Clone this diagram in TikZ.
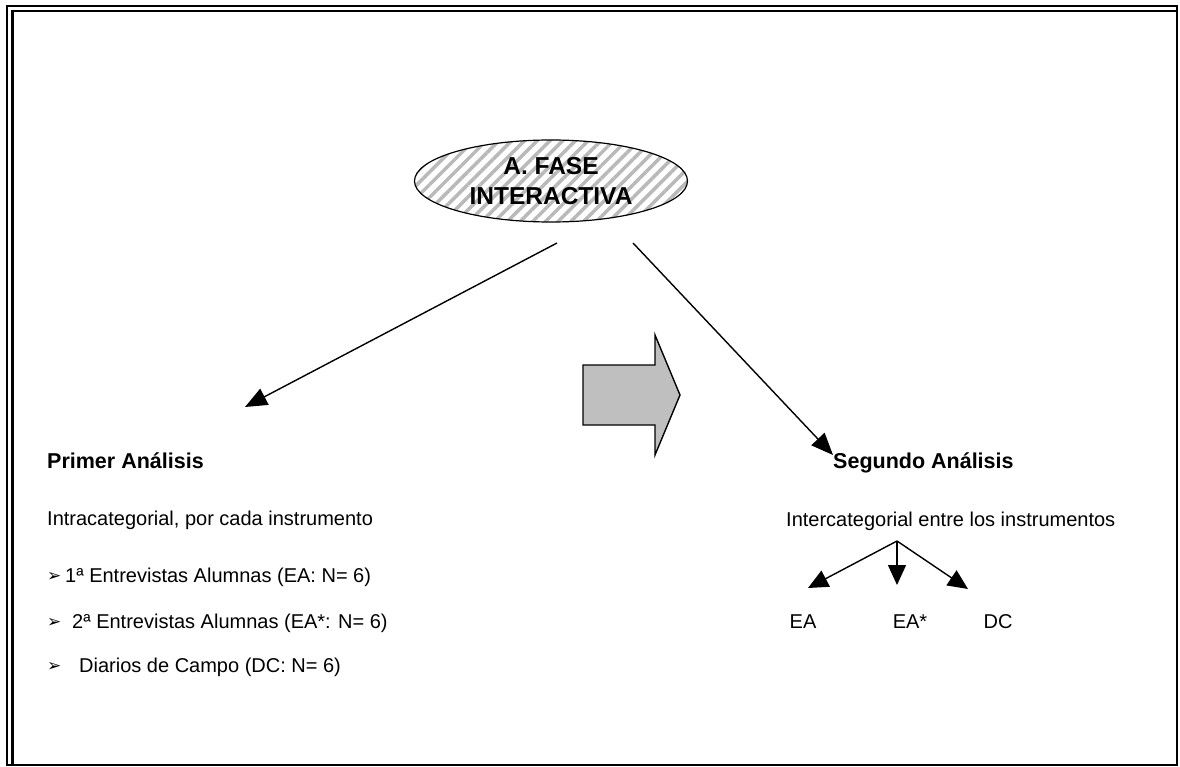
\documentclass[tikz,border=0pt]{standalone}
\usepackage{fontspec}
\setmainfont{Liberation Sans}
\newfontfamily\vinetafont{DejaVu Sans}
\usetikzlibrary{shapes.geometric,arrows.meta,patterns.meta}

\begin{document}
\begin{tikzpicture}[x=1pt,y=-1pt,
  fase/.style={ellipse,draw,line width=1.2pt,minimum width=273pt,minimum height=82pt,
    pattern={Lines[angle=45,distance=9pt,line width=3.5pt]},pattern color=gray!55,
    align=center,font=\fontsize{24.5}{30}\selectfont\bfseries},
  titulo/.style={anchor=base west,inner sep=0pt,font=\fontsize{21.5}{26}\selectfont\bfseries},
  texto/.style={anchor=base west,inner sep=0pt,font=\fontsize{20}{24}\selectfont},
  vineta/.style={anchor=base west,inner sep=0pt,font=\fontsize{17}{20}\selectfont\vinetafont},
  sigla/.style={anchor=base,inner sep=0pt,font=\fontsize{20}{24}\selectfont},
  flecha/.style={-{Triangle[length=22pt,width=18pt]},line width=1.4pt},
  flechita/.style={-{Triangle[length=20pt,width=18pt]},line width=1.4pt}]
\useasboundingbox (0,0) rectangle (1180,767);
% marco doble
\draw [line width=2.5pt] (7,6) rectangle (1177,765);
\draw [line width=2.5pt] (12.5,765) -- (12.5,11) -- (1177,11);
% fase
\node [fase] (fase) at (551,181) {A. FASE\\INTERACTIVA};
\coordinate (sal1) at (557,243);
\coordinate (sal2) at (633,243);
\coordinate (izq) at (245,407);
\coordinate (der) at (833,455);
\draw [flecha] (sal1) -- (izq);
\draw [flecha] (sal2) -- (der);
% flecha de bloque
\draw [fill=gray!50,line width=1.4pt] (583,365) -- (655,365) -- (655,335) -- (680,395)
  -- (655,455) -- (655,425) -- (583,425) -- cycle;
% primer analisis
\node [titulo] (primero) at (47,468) {Primer Análisis};
\node [texto] (intra) at (47,525) {Intracategorial, por cada instrumento};
\node [vineta] (v1) at (47,581) {➢};
\node [texto] (ea1) at (65,582) {1ª Entrevistas Alumnas (EA: N= 6)};
\node [vineta] (v2) at (47,627) {➢};
\node [texto] (ea2) at (72,628) {2ª Entrevistas Alumnas (EA*: N= 6)};
\node [vineta] (v3) at (47,671) {➢};
\node [texto] (dc) at (79,672) {Diarios de Campo (DC: N= 6)};
% segundo analisis
\node [titulo] (segundo) at (833,468) {Segundo Análisis};
\node [texto] (inter) at (786,526) {Intercategorial entre los instrumentos};
\coordinate (ramas) at (897,541);
\coordinate (r1) at (808,588);
\coordinate (r2) at (897,585);
\coordinate (r3) at (968,589);
\draw [flechita] (ramas) -- (r1);
\draw [flechita] (ramas) -- (r2);
\draw [flechita] (ramas) -- (r3);
\node [sigla] (sea) at (803,628) {EA};
\node [sigla] (seas) at (910,628) {EA*};
\node [sigla] (sdc) at (998,628) {DC};
\end{tikzpicture}
\end{document}
